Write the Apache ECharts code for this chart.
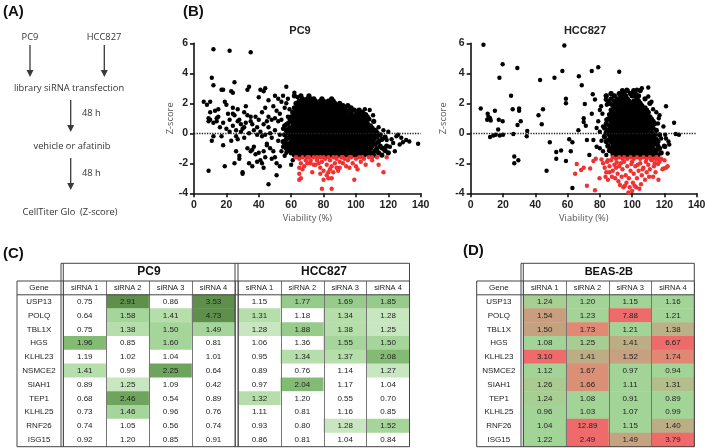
<!DOCTYPE html>
<html><head><meta charset="utf-8">
<script src="https://cdn.jsdelivr.net/npm/echarts@6/dist/echarts.min.js"></script>
<style>html,body{margin:0;padding:0;background:#fff}#c{width:709px;height:448px}</style>
</head><body><div id="c"></div>
<script>
// ---------- DATA ----------
const genes = ['USP13','POLQ','TBL1X','HGS','KLHL23','NSMCE2','SIAH1','TEP1','KLHL25','RNF26','ISG15'];
const sirnas = ['siRNA 1','siRNA 2','siRNA 3','siRNA 4'];
const xTicks = [0,20,40,60,80,100,120,140];
const yTicks = [-4,-2,0,2,4,6];

const pc9Values = [
 [0.75,2.91,0.86,3.53],[0.64,1.58,1.41,4.73],[0.75,1.38,1.50,1.49],[1.96,0.85,1.60,0.81],
 [1.19,1.02,1.04,1.01],[1.41,0.99,2.25,0.64],[0.89,1.25,1.09,0.42],[0.68,2.46,0.54,0.89],
 [0.73,1.46,0.96,0.76],[0.74,1.05,0.56,0.74],[0.92,1.20,0.85,0.91]];
const pc9Hits = [
 [0,1,0,1],[0,1,1,1],[0,1,1,1],[1,0,1,0],[0,0,0,0],[1,0,1,0],[0,1,0,0],[0,1,0,0],[0,1,0,0],[0,0,0,0],[0,0,0,0]];
const hccValues = [
 [1.15,1.77,1.69,1.85],[1.31,1.18,1.34,1.28],[1.28,1.88,1.38,1.25],[1.06,1.36,1.55,1.50],
 [0.95,1.34,1.37,2.08],[0.89,0.76,1.14,1.27],[0.97,2.04,1.17,1.04],[1.32,1.20,0.55,0.70],
 [1.11,0.81,1.16,0.85],[0.93,0.80,1.28,1.52],[0.86,0.81,1.04,0.84]];
const hccHits = [
 [0,1,1,1],[1,0,1,1],[1,1,1,1],[0,0,1,1],[0,1,1,1],[0,0,0,1],[0,1,0,0],[1,0,0,0],[0,0,0,0],[0,0,1,1],[0,0,0,0]];
const beasValues = [
 [1.24,1.20,1.15,1.16],[1.54,1.23,7.88,1.21],[1.50,1.73,1.21,1.38],[1.08,1.25,1.41,6.67],
 [3.10,1.41,1.52,1.74],[1.12,1.67,0.97,0.94],[1.26,1.66,1.11,1.31],[1.24,1.08,0.91,0.89],
 [0.96,1.03,1.07,0.99],[1.04,12.89,1.15,1.40],[1.22,2.49,1.49,3.79]];

// PC9 scatter: sparse points [viability, z]
const pc9Sparse = [[6,2.1],[8,1.9],[9,0.8],[9,1.0],[9,-2.5],[10,2.1],[10,1.4],[11,-0.5],[11,3.7],[12,3.2],[12,5.6],[12,0.7],[13,1.5],[14,1.0],[14,0.8],[15,1.6],[16,0.4],[17,2.9],[18,2.9],[17,-0.2],[18,0.7],[18,-0.8],[19,2.1],[19,-2.2],[20,0.3],[21,1.3],[22,5.5],[22,0.9],[23,2.8],[23,-0.5],[24,2.7],[24,1.7],[24,1.3],[24,0.5],[25,3.4],[25,-2.0],[25,1.2],[26,-0.2],[26,0.2],[27,-0.4],[27,1.6],[28,0.9],[28,-1.5],[28,-1.7],[29,0.1],[29,0.6],[30,-2.6],[30,-2.7],[31,1.4],[31,0.4],[32,0.7],[32,1.8],[33,2.9],[33,-1.0],[34,3.1],[34,-2.0],[35,5.4],[35,0.8],[35,1.1],[35,-1.2],[36,-2.2],[36,0.6],[37,-0.9],[37,0.2],[38,1.1],[38,-1.4],[39,-0.1],[40,0.9],[40,2.4],[40,-1.3],[41,2.9],[41,-1.8],[41,0.1],[42,-2.0],[42,-0.2],[42,1.4],[43,-2.3],[43,0.6],[44,3.0],[44,-1.6],[44,1.7],[45,-0.7],[45,-0.8],[46,-3.4],[46,2.2],[46,0.4],[46,1.1],[47,-1.0],[48,-0.3],[48,0.9],[49,-1.2],[49,1.8],[50,0.2],[50,-1.6],[51,-2.8],[51,1.5],[51,-2.0],[52,-0.5],[52,0.8],[53,-2.2],[53,1.3],[54,2.1],[54,-1.2],[55,0.3],[55,2.5],[55,-0.9],[56,1.7],[56,-1.5],[57,3.1],[57,0.6],[57,2.0],[58,-0.3],[58,1.1],[58,2.3],[59,-1.1],[59,0.9],[59,1.6],[62,2.7],[64,2.4],[61,-1.8],[60,-2.1],[57,-1.3],[53,-0.1],[47,0.0],[44,-0.1],[39,0.4],[34,0.0],[30,0.3],[27,0.8],[20,1.9],[15,1.1],[10,0.9],[12,-0.2],[36,-1.1],[43,-1.2],[48,-1.7],[45,0.8],[50,1.0],[39,-1.9],[26,-1.2],[22,0.1],[31,-0.3],[33,1.2],[50,2.5],[52,2.3],[43,2.8],[54,0.9],
 [114,0.4],[117,0.2],[120,0.1],[125,-0.2],[128,-0.3],[131,-0.45],[133,-0.55],[138.4,-0.7],[119,-0.45],[123,-0.65],[124,-1.2],[126,-0.1],[129,-0.6],[121,-0.9],[116,-1.0],[118,-0.3],[113,-1.2],[122,-0.4],[127,-0.75],[108.5,1.55],[110.6,1.2],[105.5,1.6]];
// PC9 dense cloud, one row per z level: [z, [viabilities]]
const pc9Rows = [
 [-1.45,[62,64,66,68.5,71,73,75,77.5,80,82,84.5,87,89,91,93.5,96,98,100.5,103,105,108,111,116]],
 [-1.3,[60,63,65,67,69.5,72,74,76,78.5,81,83,85.5,88,90,92,94.5,97,99,101.5,104,107,110,114,120]],
 [-1.15,[58,61,64,66,68,70.5,73,75,77,79.5,82,84,86.5,89,91,93,95.5,98,100,102.5,105,108,112,118]],
 [-1.0,[57,60,62.5,65,67,69,71.5,74,76,78,80.5,83,85,87.5,90,92,94,96.5,99,101,103.5,106,109,113,117]],
 [-0.85,[59,61,64,66,68,70,72.5,75,77,79,81.5,84,86,88.5,91,93,95,97.5,100,102,104.5,107,110,115,119]],
 [-0.7,[56,58,62,65,67,69,71,73.5,76,78,80,82.5,85,87,89.5,92,94,96,98.5,101,103,105.5,108,112]],
 [-0.55,[55,60,63,66,68,70,72,74.5,77,79,81,83.5,86,88,90.5,93,95,97,99.5,102,104,106.5,110,114]],
 [-0.4,[57,61,64,67,69,71,73,75.5,78,80,82,84.5,87,89,91.5,94,96,98,100.5,103,105,108,111,116]],
 [-0.25,[59,62,65,68,70,72,74,76.5,79,81,83,85.5,88,90,92.5,95,97,99,101.5,104,106,109,113,118]],
 [-0.1,[56,60,63,66,69,71,73,75,77.5,80,82,84,86.5,89,91,93.5,96,98,100,102.5,105,108,111,115]],
 [0.05,[58,61,64,67,70,72,74,76,78.5,81,83,85,87.5,90,92,94.5,97,99,101,103.5,106,110,113]],
 [0.2,[57,60,62,65,68,71,73,75,77,79.5,82,84,86,88.5,91,93,95.5,98,100,102.5,105,108,112]],
 [0.35,[59,63,66,69,72,74,76,78,80.5,83,85,87,89.5,92,94,96.5,99,101,104,107,110]],
 [0.5,[56,61,64,67,70,73,75,77,79,81.5,84,86,88,90.5,93,95,97.5,100,102,105,109]],
 [0.65,[58,62,65,68,71,74,76,78,80,82.5,85,87,89,91.5,94,96,98.5,101,104,107]],
 [0.8,[60,63,66,69,72,75,77,79,81,83.5,86,88,90,92.5,95,97,100,103,106,111]],
 [0.95,[61,64,67,70,73,76,78,80,82,84.5,87,89,91,93.5,96,99,102,105,108]],
 [1.1,[60,63,66,69,72,74,77,79,81,83,85.5,88,90,92.5,95,98,101,104,107]],
 [1.25,[62,65,68,71,73,76,78,80,82.5,85,87,89.5,92,94,97,100,103,106]],
 [1.4,[61,64,67,70,72,75,77,79.5,82,84,86.5,89,91,94,97,101,104]],
 [1.55,[63,66,69,71,74,76,78.5,81,83,85.5,88,90,93,96,99,102]],
 [1.7,[62,65,68,70,73,75.5,78,80,82.5,85,87.5,90,93,97]],
 [1.85,[64,67,69,72,74.5,77,79,81.5,84,86.5,89,92,95]],
 [2.0,[63,66,68.5,71,73.5,76,78,81,84,87,90]],
 [2.15,[65,68,70,72.5,75,78,80,83,86]],
 [2.3,[67,70,72,74,79,85]],
 [2.5,[62,66,71]]];
const pc9Red = [[65,-1.7],[66,-2.0],[65,-2.3],[65,-2.7],[66,-3.0],[65,-3.1],[67,-2.4],[68,-2.2],[70,-1.6],[70,-2.0],[72,-1.8],[74,-1.6],[75,-2.1],[76,-1.8],[77,-2.0],[78,-2.3],[79,-1.9],[79,-3.7],[80,-3.1],[80,-2.5],[81,-1.7],[82,-2.1],[82,-2.8],[83,-2.6],[83,-3.0],[84,-1.8],[85,-3.7],[85,-3.0],[85,-2.2],[86,-1.6],[87,-2.0],[88,-1.7],[88,-2.3],[89,-2.5],[90,-1.9],[91,-1.6],[92,-2.0],[93,-1.7],[94,-2.2],[95,-1.8],[96,-1.6],[98,-2.0],[99,-3.1],[100,-1.7],[101,-2.4],[102,-1.6],[103,-1.9],[105,-1.7],[106,-2.1],[108,-1.6],[110,-1.8],[113,-1.6],[114,-2.1],[117,-2.6],[119,-1.6],[71,-1.6],[73,-2.6],[74,-2.1],[76,-1.6],[78,-1.6],[80,-1.6],[83,-1.6],[86,-2.6],[88,-1.6],[92,-1.6],[97,-1.6],[104,-1.6],[110,-1.6],[63,-1.6],[67,-1.6],[69,-1.8],[100,-2.2],[90,-2.3],[96,-2.3],[84,-2.4],[78,-2.7],[72,-2.0]];

// HCC827 scatter
const hccSparse = [[7.9,5.9],[58,5.85],[19.8,4.6],[28.9,4.35],[56.8,4.15],[75,4.15],[79,4.4],[92,4.1],[17.8,3.7],[51.9,3.7],[43,3.55],[67,3.8],[68.8,3.2],[6.2,1.65],[25,2.5],[26,1.6],[30,1.65],[30,1.5],[31,0.8],[29,0.55],[10.5,1.3],[11,1.1],[11.5,0.95],[12.4,0.85],[10.2,0.9],[12,1.0],[15,1.5],[17.4,0.9],[19.8,0.8],[17,0.25],[12,-0.25],[14,-0.15],[15.5,-0.1],[18,-0.15],[20,-0.1],[26.4,-0.05],[27,-1.55],[27,-2.0],[29.5,-1.8],[35,0.15],[34.7,-0.2],[42,1.2],[44,0.6],[44.8,1.6],[49,-0.6],[47,-2.5],[53,-1.25],[53,-1.7],[56,-1.15],[59,2.3],[59,2.0],[59,-1.85],[61,-0.4],[62,-1.2],[63,-0.6],[63,-3.65],[66.7,0.2],[70,1.0],[70,0.75],[70.7,1.95],[71.3,0.5],[72,-0.45],[73.5,-1.45],[75.6,2.6],[77,2.25],[75,1.3],[76,-0.45],[78,0.35],[79,0.8],[80,1.55],[80,0.1],[80.8,1.8],[81.6,1.3],[82,0.45],[82.6,-0.2],[83.7,2.5],[83.7,2.25],[84.3,1.9],[85,-0.8],[86,-0.05],[86.8,2.65],[110,3.05],[106,3.0],[96.7,2.9],[100,2.7],[103,2.9],[101.9,2.45],[110,2.45],[112,2.1],[121,1.8],[116.5,1.0],[116,0.65],[119.4,0.45],[120.5,-0.1],[121,-0.35],[126,0.7],[127,-0.05],[129,-0.1],[120.5,-0.9],[122,-1.35],[122.5,-0.55],[123,-0.75],[118,-0.35],[115,1.4],[117,1.2],[113,1.6],[82,-1.2],[80,-1.0],[78,-0.9],[84,0.9],[81,-0.5],[88,-1.5],[84,-1.45]];
const hccRows = [
 [-1.45,[90,92,94,96,98,100,102,104,106,108,110,113,116]],
 [-1.3,[88,91,93,95,97,99,101,103,105,107,109,111,114,118]],
 [-1.15,[86,89,92,94,96,98,100,102,104,106,108,110,112,115]],
 [-1.0,[87,90,91.5,93,95,97,99,101,103,105,107,109,111,113,117]],
 [-0.85,[85,89,92,94,96,98,100,102,104,106,108,110,112,116,120]],
 [-0.7,[88,90,93,95,97,99,101,103,105,107,109,111,114]],
 [-0.55,[84,87,91,92,94,96,98,100,102,104,106,108,110,113,116]],
 [-0.4,[86,89,93,95,97,99,101,103,105,107,109,112,115]],
 [-0.25,[83,88,91,92,94,96,98,100,102,104,106,108,110,113]],
 [-0.1,[86,89,93,95,97,99,101,103,105,107,109,111,114,117]],
 [0.05,[84,87,90,92,94,96,98,100,102,104,106,108,110,112]],
 [0.2,[85,88,91,93,95,97,99,101,103,105,107,109,111,115]],
 [0.35,[83,87,90,92,94,96,98,100,102,104,106,108,110,113]],
 [0.5,[86,89,91,93,95,97,99,101,103,105,107,109,112]],
 [0.65,[84,88,90,92,94,96,98,100,102,104,106,108,111,114]],
 [0.8,[87,89,91,93,95,97,99,101,103,105,107,110,113]],
 [0.95,[85,88,90,92,94,96,98,100,102,104,106,109,112]],
 [1.1,[87,89,91,93,95,97,99,101,103,105,108,111]],
 [1.25,[86,89,92,94,96,98,100,102,104,106,109]],
 [1.4,[88,90,92,95,97,99,101,103,105,107,110]],
 [1.55,[87,91,93,96,98,100,102,104,106,109]],
 [1.7,[89,92,94,97,99,101,103,105,108]],
 [1.85,[88,91,95,98,100,103,106]],
 [2.0,[86,90,93,96,99,102,105,111]],
 [2.15,[85,89,92,95,98,101,104]],
 [2.3,[87,91,94,97,103,108]],
 [2.5,[84,89,93,96,100,104]],
 [2.65,[87,92,95,99,102]],
 [2.85,[94,97,101,105]]];
const hccRed = [[88,-1.6],[90,-1.7],[92,-1.6],[94,-1.7],[95,-1.6],[97,-1.7],[99,-1.6],[101,-1.7],[103,-1.6],[105,-1.7],[107,-1.6],[109,-1.7],[111,-1.6],[113,-1.7],[115,-1.6],[117,-1.7],[65.7,-2.05],[64.7,-2.7],[68.4,-2.45],[70,-2.3],[72,-3.5],[74,-2.35],[77,-3.8],[76,-1.85],[79.8,-3.0],[77.5,-1.7],[81,-1.75],[82,-2.0],[83,-2.3],[84,-2.6],[83.5,-2.9],[85,-3.1],[84.5,-1.9],[86,-2.2],[87,-1.8],[88,-2.5],[89,-2.1],[90,-2.3],[91,-2.7],[91.5,-3.2],[92.5,-3.45],[93,-2.0],[94,-2.4],[94.6,-3.6],[95,-1.9],[96,-2.8],[97,-2.2],[97.7,-3.95],[98,-3.0],[99,-2.5],[100,-1.9],[100.5,-3.3],[101,-2.7],[102,-2.2],[102.5,-3.6],[103,-3.0],[104,-2.5],[105,-2.0],[105.5,-3.4],[106,-2.8],[107,-2.3],[108,-3.1],[108.5,-1.9],[109,-2.6],[110,-2.1],[111,-2.4],[112,-1.8],[113,-2.9],[114,-2.0],[115,-1.75],[116.3,-3.1],[117,-1.9],[118.8,-2.4],[119.4,-2.35],[121,-2.3],[122,-2.2],[98.5,-3.6],[96.5,-3.3],[93.5,-2.9],[92,-2.2],[90.5,-1.95],[87.5,-2.9],[99.5,-2.05],[101.5,-3.5],[103.5,-2.1],[106.5,-2.4],[110.5,-2.9],[104.5,-3.7],[100,-3.85],[95.5,-3.5],[89.5,-3.0],[86,-2.6],[85,-1.8],[111.5,-1.7],[113.5,-2.2],[116,-2.05],[118,-1.7],[120,-1.8],[114.5,-2.6]];

// ---------- BUILD ----------
function expandRows(rows){ const out=[]; rows.forEach(([y,xs])=>xs.forEach(x=>out.push([x,y]))); return out; }
const pc9Cloud = expandRows(pc9Rows);
const hccCloud = expandRows(hccRows);
function cells(vals, hits){ const out=[]; vals.forEach((row,r)=>row.forEach((v,c)=>out.push([c, r+1, v, hits ? (hits[r][c] ? v : 0) : v]))); return out; }

const TF = 'Liberation Sans, Arial, sans-serif';
const OS = 'Open Sans, Noto Sans, sans-serif';
const INK = '#444';
const DOT = 4.4, CLOUD_DOT = 5.2;

function scatterAxes(g, yGap){
  return {
    x: {gridIndex:g, type:'value', min:xTicks[0], max:xTicks[xTicks.length-1], interval:xTicks[1]-xTicks[0],
      axisLine:{show:true, onZero:false, lineStyle:{color:'#111', width:1.6}},
      axisTick:{show:true, length:4, lineStyle:{color:'#111', width:1.6}},
      axisLabel:{fontSize:10.5, fontWeight:'bold', color:'#222', margin:6, fontFamily:TF},
      splitLine:{show:false}, name:'Viability (%)', nameLocation:'middle', nameGap:21,
      nameTextStyle:{fontSize:9.3, color:'#555', fontFamily:OS}},
    y: {gridIndex:g, type:'value', min:yTicks[0], max:yTicks[yTicks.length-1], interval:yTicks[1]-yTicks[0],
      axisLine:{show:true, onZero:false, lineStyle:{color:'#111', width:1.6}},
      axisTick:{show:true, length:4, lineStyle:{color:'#111', width:1.6}},
      axisLabel:{fontSize:10.5, fontWeight:'bold', color:'#222', margin:6, fontFamily:TF},
      splitLine:{show:false}, name:'Z-score', nameLocation:'middle', nameGap:yGap,
      nameTextStyle:{fontSize:9.3, color:'#555', fontFamily:OS}}
  };
}
function tableAxes(g, showY, yMargin){
  return {
    x: {gridIndex:g, type:'category', data:sirnas, position:'top', z:4,
      axisLine:{show:false}, axisTick:{show:false},
      axisLabel:{inside:true, margin:3, fontSize:7.5, color:'#222', fontFamily:TF, interval:0},
      splitLine:{show:true, interval:0, lineStyle:{color:'#777', width:1}}},
    y: {gridIndex:g, type:'category', data:['Gene'].concat(genes), inverse:true, z:4,
      axisLine:{show:false}, axisTick:{show:false}, splitLine:{show:false},
      axisLabel:{show:showY, align:'center', margin:yMargin, fontSize:8, color:'#222', fontFamily:TF, interval:0}}
  };
}
const a0 = scatterAxes(0, 19), a1 = scatterAxes(1, 23);
const t2 = tableAxes(2, true, 24.3), t3 = tableAxes(3, false, 0), t4 = tableAxes(4, true, 24.4);

const grids = [
  {left:194, top:43.3, width:226.7, height:150},
  {left:470.7, top:43.3, width:226, height:150},
  {left:63.3, top:281, width:171.7, height:165.7},
  {left:238, top:281, width:171.5, height:165.7},
  {left:523.3, top:281, width:171, height:165.7}
];
const hdrBot = 281 + 165.7/12;

function cellLabel(){ return {show:true, fontSize:8, color:'#222', fontFamily:TF, formatter:p=>p.value[2].toFixed(2)}; }
const zeroLine = {silent:true, symbol:['none','none'], label:{show:false},
  lineStyle:{type:'dotted', color:'#222', width:1.3}, data:[{yAxis:0}]};

// ---------- GRAPHIC (diagram, panel letters, table frames) ----------
const G = [];
function txt(x,y,text,font,align,fill){ G.push({type:'text', x, y, z:10, style:{text, font, fill:fill||'#333', align:align||'center', verticalAlign:'middle'}}); }
function ln(x1,y1,x2,y2,c,w){ G.push({type:'line', z:10, shape:{x1,y1,x2,y2}, style:{stroke:c||INK, lineWidth:w||1}}); }
function arrow(x,y1,y2){ ln(x,y1,x,y2-6,'#3a3a3a',1.3); G.push({type:'polygon', z:10, shape:{points:[[x-3.5,y2-7],[x+3.5,y2-7],[x,y2]]}, style:{fill:'#3a3a3a'}}); }

const PL = 'bold 15px Liberation Sans, Arial, sans-serif';
txt(3,12,'(A)',PL,'left','#111'); txt(183,12,'(B)',PL,'left','#111');
txt(3,254,'(C)',PL,'left','#111'); txt(463,251,'(D)',PL,'left','#111');
const AF = '9.3px Open Sans, Noto Sans, sans-serif';
txt(30,37,'PC9',AF); txt(104,37,'HCC827',AF);
arrow(30,45,77); arrow(104.3,45,77);
txt(69,88,'library siRNA transfection',AF);
arrow(70.7,100,132); txt(82,113,'48 h',AF,'left');
txt(72,146,'vehicle or afatinib',AF);
arrow(70.7,158,190); txt(82,173,'48 h',AF,'left');
txt(70,212,'CellTiter Glo  (Z-score)',AF);
txt(300,31,'PC9','bold 11px Liberation Sans, Arial, sans-serif','center','#222');
txt(585,31,'HCC827','bold 11px Liberation Sans, Arial, sans-serif','center','#222');

// table C frame
const TT = 263.3, TB = 446.7, HT = 281;
ln(61,TT,409.5,TT); ln(17,HT,409.5,HT); ln(17,hdrBot,409.5,hdrBot); ln(17,TB,409.5,TB);
ln(17,HT,17,TB); ln(61,TT,61,TB); ln(63.3,TT,63.3,TB); ln(235,TT,235,TB); ln(238,TT,238,TB); ln(409.5,TT,409.5,TB);
txt(149,272,'PC9','bold 12px Liberation Sans, Arial, sans-serif','center','#111');
txt(324,272,'HCC827','bold 12px Liberation Sans, Arial, sans-serif','center','#111');
// table D frame
ln(521,TT,694.3,TT); ln(476.7,HT,694.3,HT); ln(476.7,hdrBot,694.3,hdrBot); ln(476.7,TB,694.3,TB);
ln(476.7,HT,476.7,TB); ln(521,TT,521,TB); ln(523.3,TT,523.3,TB); ln(694.3,TT,694.3,TB);
txt(608.8,272,'BEAS-2B','bold 11px Liberation Sans, Arial, sans-serif','center','#111');

const blk = {color:'#000', opacity:1}, red = {color:'#f03232', opacity:1};
const option = {
  backgroundColor:'#fff', animation:false,
  grid: grids,
  xAxis: [a0.x, a1.x, t2.x, t3.x, t4.x],
  yAxis: [a0.y, a1.y, t2.y, t3.y, t4.y],
  visualMap: [
    {type:'piecewise', show:false, dimension:3, seriesIndex:[6,7], pieces:[
      {lt:1, color:'#ffffff'},
      {gte:1, lt:1.3, color:'#c8e6bf'},
      {gte:1.3, lt:1.45, color:'#b6deab'},
      {gte:1.45, lt:1.62, color:'#a5d59a'},
      {gte:1.62, lt:1.9, color:'#97cb8b'},
      {gte:1.9, lt:2.15, color:'#83bb74'},
      {gte:2.15, lt:2.7, color:'#6fa45f'},
      {gte:2.7, color:'#5e904c'}]},
    {type:'continuous', show:false, dimension:2, seriesIndex:8, min:1.22, max:2.32,
      inRange:{color:['#a3d497','#b5bc88','#bdab84','#c6a07f','#d59479','#e08a75','#e68070','#ea786d','#ed726b','#ee6e6b','#ef6b6b','#ef6b6b']}}
  ],
  graphic: G,
  series: [
    {type:'scatter', xAxisIndex:0, yAxisIndex:0, data:pc9Sparse, symbolSize:DOT, itemStyle:blk, silent:true, markLine:zeroLine},
    {type:'scatter', xAxisIndex:0, yAxisIndex:0, data:pc9Cloud, symbolSize:CLOUD_DOT, itemStyle:blk, silent:true},
    {type:'scatter', xAxisIndex:0, yAxisIndex:0, data:pc9Red, symbolSize:DOT, itemStyle:red, silent:true},
    {type:'scatter', xAxisIndex:1, yAxisIndex:1, data:hccSparse, symbolSize:DOT, itemStyle:blk, silent:true, markLine:zeroLine},
    {type:'scatter', xAxisIndex:1, yAxisIndex:1, data:hccCloud, symbolSize:CLOUD_DOT, itemStyle:blk, silent:true},
    {type:'scatter', xAxisIndex:1, yAxisIndex:1, data:hccRed, symbolSize:DOT, itemStyle:red, silent:true},
    {type:'heatmap', xAxisIndex:2, yAxisIndex:2, data:cells(pc9Values, pc9Hits), label:cellLabel(), silent:true},
    {type:'heatmap', xAxisIndex:3, yAxisIndex:3, data:cells(hccValues, hccHits), label:cellLabel(), silent:true},
    {type:'heatmap', xAxisIndex:4, yAxisIndex:4, data:cells(beasValues, null), label:cellLabel(), silent:true}
  ]
};
const chart = echarts.init(document.getElementById('c'), null, {renderer:'canvas'});
chart.setOption(option);
</script>
</body></html>
